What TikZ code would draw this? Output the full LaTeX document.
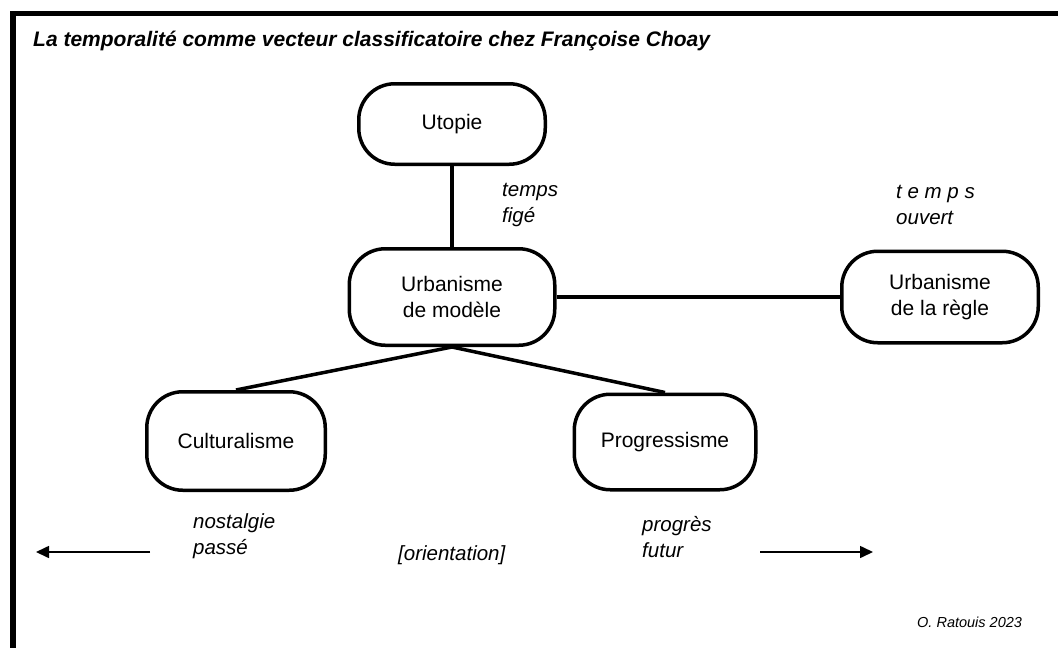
\documentclass[tikz,border=0pt]{standalone}
\usepackage{fontspec}
\setmainfont{Liberation Sans}
\usetikzlibrary{arrows.meta}
\tikzset{
  box/.style={draw=black, line width=3.5pt, rounded corners=36pt, align=center, inner sep=0pt,
    font=\fontsize{21}{25.5}\selectfont},
  conn/.style={line width=3.5pt},
  lab/.style={anchor=west, align=left, inner sep=0pt, font=\fontsize{20.5}{26}\selectfont\itshape},
  orient/.style={line width=1.6pt, -{Triangle[length=13pt,width=12pt]}},
  frame/.style={fill=black, draw=none}
}
\begin{document}
\begin{tikzpicture}[x=1pt,y=-1pt]
\useasboundingbox (0,0) rectangle (1058,648);
\fill[white] (0,0) rectangle (1058,648);
% frame
\fill[frame] (10,11) rectangle (1058,16);
\fill[frame] (10,11) rectangle (16,648);
% title
\node[anchor=base west, inner sep=0pt, font=\fontsize{21}{25}\selectfont\bfseries\itshape] (title) at (33,46)
  {La temporalité comme vecteur classificatoire chez Françoise Choay};
% boxes
\node[box, minimum width=186.5pt, minimum height=80.5pt] (utopie) at (452,124) {Utopie};
\node[box, minimum width=205.5pt, minimum height=96.5pt] (modele) at (452,297) {Urbanisme\\de modèle};
\node[box, minimum width=196.5pt, minimum height=91.5pt] (regle) at (940,297) {Urbanisme\\de la règle};
\node[box, minimum width=178.5pt, minimum height=98.5pt] (cult) at (236,441) {Culturalisme};
\node[box, minimum width=181.5pt, minimum height=95.5pt] (prog) at (665,442) {Progressisme};
% connectors
\draw[conn] (utopie.south) -- (modele.north);
\draw[conn] (modele.east) -- (regle.west);
\draw[conn] (modele.south) -- (cult.north);
\draw[conn] (modele.south) -- (prog.north);
% labels
\node[lab] (fige) at (502,204.5) {temps\\figé};
\node[lab] (ouvert) at (896,204.5) {t e m p s\\ouvert};
\node[lab] (nost) at (193,536.5) {nostalgie\\passé};
\node[lab] (prg) at (642,537.5) {progrès\\futur};
\node[lab] (orientation) at (398,555) {[orientation]};
\node[anchor=west, inner sep=0pt, font=\fontsize{14.5}{16}\selectfont\itshape] (credit) at (917,622) {O. Ratouis 2023};
% orientation arrows
\coordinate (lA) at (150,552);
\coordinate (lB) at (36,552);
\coordinate (rA) at (760,552);
\coordinate (rB) at (873,552);
\draw[orient] (lA) -- (lB);
\draw[orient] (rA) -- (rB);
\end{tikzpicture}
\end{document}
